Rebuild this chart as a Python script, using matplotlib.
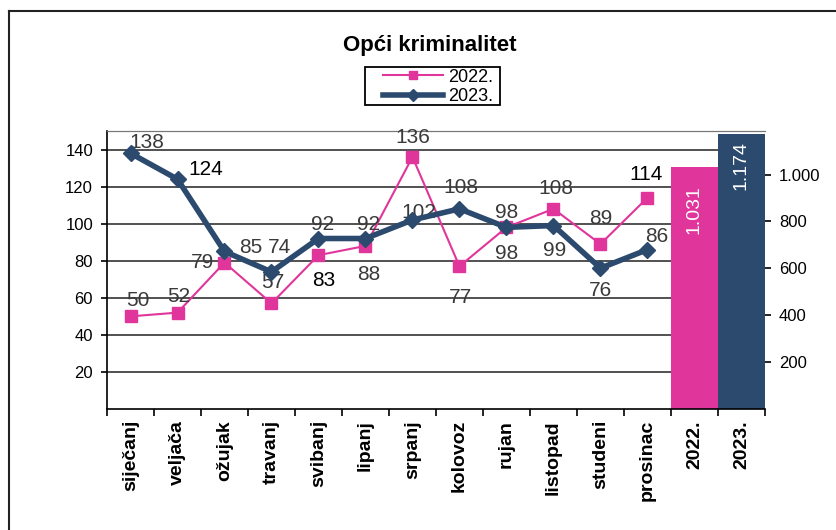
import numpy as np
import matplotlib
matplotlib.use('Agg')
import matplotlib.pyplot as plt
from matplotlib.lines import Line2D
from matplotlib.patches import Rectangle
from matplotlib.ticker import FuncFormatter

plt.rcParams['font.family'] = ['Liberation Sans', 'DejaVu Sans']

months = ['siječanj', 'veljača', 'ožujak', 'travanj', 'svibanj', 'lipanj',
          'srpanj', 'kolovoz', 'rujan', 'listopad', 'studeni', 'prosinac']
years = ['2022.', '2023.']
v2022 = [50, 52, 79, 57, 83, 88, 136, 77, 98, 108, 89, 114]
v2023 = [138, 124, 85, 74, 92, 92, 102, 108, 98, 99, 76, 86]
totals = [1031, 1174]
total_labels = ['1.031', '1.174']

# label offsets in pixels (dx, dy) and colours
off2022 = [(7, 16), (1, 16), (-22, 0), (1, 21), (5, -25), (3, -29),
           (0, 19), (1, -31), (0, -26), (2, 20), (0, 26), (-1, 23)]
off2023 = [(16, 11), (28, 10), (26, 4), (8, 24), (4, 14), (3, 14),
           (6, 7), (1, 21), (0, 15), (1, -25), (0, -22), (9, 13)]
dark2022 = [False, False, False, False, True, False,
            False, False, False, False, False, True]
dark2023 = [False, True, False, False, False, False,
            False, False, False, False, False, False]

pink = '#e0359b'
navy = '#2b4a6e'
grey_txt = '#3a3a3a'
W, H = 836, 530

fig = plt.figure(figsize=(8.36, 5.30), dpi=100)
ax = fig.add_axes([0.128, 0.2283, 0.787, 0.5245])
ax2 = ax.twinx()

x = np.arange(len(months))
xb = np.arange(len(months), len(months) + len(years))
ytop2 = 1186

# bars on the secondary axis
ax2.bar(xb, totals, width=1.0, color=[pink, navy], zorder=2)
ax2.set_ylim(0, ytop2)
ax2.set_yticks([200, 400, 600, 800, 1000])
ax2.yaxis.set_major_formatter(FuncFormatter(
    lambda v, p: '{:,.0f}'.format(v).replace(',', '.')))
ax2.tick_params(axis='y', labelsize=12, length=4, width=1.2, pad=6)
for xi, t, lab in zip(xb, totals, total_labels):
    ax2.annotate(lab, (xi, t), xytext=(0, -42 if t < 1100 else -32),
                 textcoords='offset pixels', rotation=90, ha='center',
                 va='center', color='white', fontsize=14)

# lines on the primary axis, drawn above the bars
ax.set_zorder(ax2.get_zorder() + 1)
ax.patch.set_visible(False)

ax.plot(x, v2022, color=pink, lw=1.5, marker='s', ms=8, mec=pink, zorder=3,
        label='2022.')
ax.plot(x, v2023, color=navy, lw=4, marker='D', ms=8, mec=navy, zorder=4,
        label='2023.')

for xi, v, o, d in zip(x, v2022, off2022, dark2022):
    ax.annotate(str(v), (xi, v), xytext=o, textcoords='offset pixels',
                ha='center', va='center', fontsize=15,
                color='black' if d else grey_txt)
for xi, v, o, d in zip(x, v2023, off2023, dark2023):
    ax.annotate(str(v), (xi, v), xytext=o, textcoords='offset pixels',
                ha='center', va='center', fontsize=15,
                color='black' if d else grey_txt)

ax.set_xlim(-0.5, len(months) + len(years) - 0.5)
ax.set_ylim(0, 150)
ax.set_yticks(np.arange(20, 141, 20))
ax.tick_params(axis='y', labelsize=12, length=4, width=1.2, pad=6)

# gridlines (behind bars -> draw on ax2)
for g in np.arange(20, 141, 20):
    ax2.axhline(g * ytop2 / 150, color='#333333', lw=1.2, zorder=1)

# x ticks: marks at boundaries, labels at centres
ax.set_xticks(np.arange(-0.5, len(months) + len(years), 1.0))
ax.set_xticklabels([])
ax.tick_params(axis='x', which='major', length=5, width=1.2)
ax.set_xticks(np.arange(len(months) + len(years)), minor=True)
ax.set_xticklabels(months + years, minor=True, rotation=90, fontsize=14,
                   fontweight='bold')
ax.tick_params(axis='x', which='minor', length=0, pad=8)

for a in (ax, ax2):
    a.spines['left'].set_linewidth(1.2)
    a.spines['bottom'].set_linewidth(1.2)
    a.spines['right'].set_visible(False)
    a.spines['top'].set_color('#777777')
ax2.spines['left'].set_visible(False)
ax2.spines['bottom'].set_visible(False)

# legend: frameless, with a hand-placed box around it
leg = ax.legend(loc='center', bbox_to_anchor=(438 / W, 1 - 87 / H),
                bbox_transform=fig.transFigure, fontsize=13, frameon=False,
                handlelength=3.3, labelspacing=0.15, handletextpad=0.3,
                markerscale=0.8)
fig.add_artist(Rectangle((365 / W, 1 - 105 / H), 135 / W, 38 / H,
                         transform=fig.transFigure, fill=False,
                         edgecolor='black', lw=1.3))

fig.text(430 / W, 1 - 45 / H, 'Opći kriminalitet', ha='center',
         va='center', fontsize=16, fontweight='bold')

# outer chart border (top and left visible)
fig.add_artist(Line2D([9 / W, 1], [1 - 11 / H, 1 - 11 / H],
                      transform=fig.transFigure, color='#222222', lw=1.5))
fig.add_artist(Line2D([9 / W, 9 / W], [0, 1 - 11 / H],
                      transform=fig.transFigure, color='#222222', lw=1.5))

fig.savefig('out.png', dpi=100)
